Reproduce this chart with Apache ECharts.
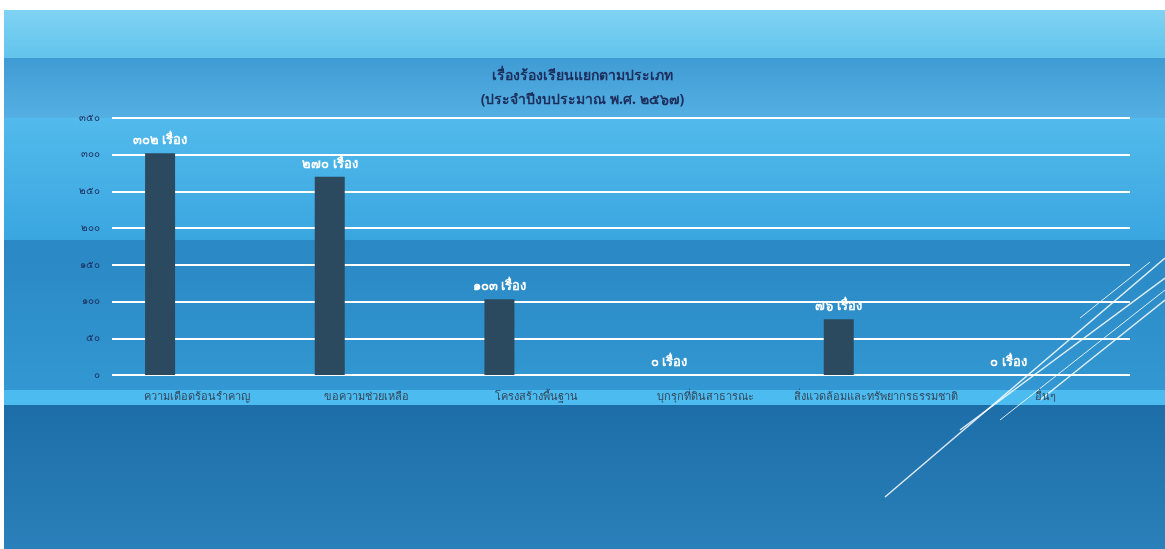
<!DOCTYPE html>
<html><head><meta charset="utf-8">
<script src="https://cdn.jsdelivr.net/npm/echarts@6/dist/echarts.min.js"></script>
<style>html,body{margin:0;padding:0;background:#fff}#c{width:1165px;height:549px}</style>
</head><body><div id="c"></div>
<script>
const categories = ['ความเดือดร้อนรำคาญ','ขอความช่วยเหลือ','โครงสร้างพื้นฐาน','บุกรุกที่ดินสาธารณะ','สิ่งแวดล้อมและทรัพยากรธรรมชาติ','อื่นๆ'];
const values = [302, 270, 103, 0, 76, 0];
const yTicks = ['๐','๕๐','๑๐๐','๑๕๐','๒๐๐','๒๕๐','๓๐๐','๓๕๐'];
const titleLines = ['เรื่องร้องเรียนแยกตามประเภท','(ประจำปีงบประมาณ พ.ศ. ๒๕๖๗)'];
const thaiDigits = ['๐','๑','๒','๓','๔','๕','๖','๗','๘','๙'];
const toThai = n => String(n).replace(/[0-9]/g, d => thaiDigits[+d]);

const chart = echarts.init(document.getElementById('c'));
const W = 1165, H = 549;
const bg = [
  {shape:{x:0,y:0,width:W,height:H}, style:{fill:'#ffffff'}},
  {shape:{x:4,y:10,width:W-4,height:48}, style:{fill:new echarts.graphic.LinearGradient(0,0,0,1,[{offset:0,color:'#7fd3f3'},{offset:1,color:'#62c3ec'}])}},
  {shape:{x:4,y:58,width:W-4,height:60}, style:{fill:new echarts.graphic.LinearGradient(0,0,0,1,[{offset:0,color:'#3f9bd3'},{offset:1,color:'#54b0e3'}])}},
  {shape:{x:4,y:118,width:W-4,height:122}, style:{fill:new echarts.graphic.LinearGradient(0,0,0,1,[{offset:0,color:'#52baec'},{offset:1,color:'#3aa6e0'}])}},
  {shape:{x:4,y:240,width:W-4,height:150}, style:{fill:new echarts.graphic.LinearGradient(0,0,0,1,[{offset:0,color:'#2a88c4'},{offset:1,color:'#3297d2'}])}},
  {shape:{x:4,y:390,width:W-4,height:15}, style:{fill:'#4cbcf0'}},
  {shape:{x:4,y:405,width:W-4,height:144}, style:{fill:new echarts.graphic.LinearGradient(0,0,0,1,[{offset:0,color:'#1d6ea8'},{offset:1,color:'#2a80ba'}])}}
].map(o => Object.assign({type:'rect', z:-10, silent:true}, o));
const lines = [
  [1165,258,885,497,1.5],[1165,278,960,430,1.5],[1165,300,1040,400,1.5],[1150,262,1080,318,1],[1165,290,1000,420,1]
].map(l => ({type:'line', z:-5, silent:true, shape:{x1:l[0],y1:l[1],x2:l[2],y2:l[3]}, style:{stroke:'rgba(255,255,255,0.85)', lineWidth:l[4]}}));

chart.setOption({
  animation:false,
  graphic: bg.concat(lines).concat([
    {type:'text', left:'center', top:64, style:{text:titleLines[0]+'\n'+titleLines[1], textAlign:'center', fill:'#1d2d5c', font:'bold 14px "Noto Sans", "DejaVu Sans", sans-serif', lineHeight:24}, x:-42}
  ]),
  grid:{left:112, right:35, top:118, bottom:174},
  xAxis:{type:'category', data:categories, axisLine:{show:false}, axisTick:{show:false},
    axisLabel:{color:'#34465c', fontSize:11, margin:16, interval:0}},
  yAxis:{type:'value', min:0, max:350, interval:50,
    axisLabel:{color:'#1d2d5c', fontSize:10, margin:12, formatter:v => toThai(v)},
    splitLine:{lineStyle:{color:'#ffffff', width:2}}, axisLine:{show:false}, axisTick:{show:false}},
  series:[
    {type:'bar', data:values, barWidth:30, barGap:'145%', itemStyle:{color:'#2c4a5f'},
      label:{show:true, position:'top', distance:6, color:'#ffffff', fontWeight:'bold', fontSize:13, formatter:p => toThai(p.value)+' เรื่อง'}},
    {type:'bar', data:values.map(()=>null), barWidth:30}
  ]
});
</script></body></html>
